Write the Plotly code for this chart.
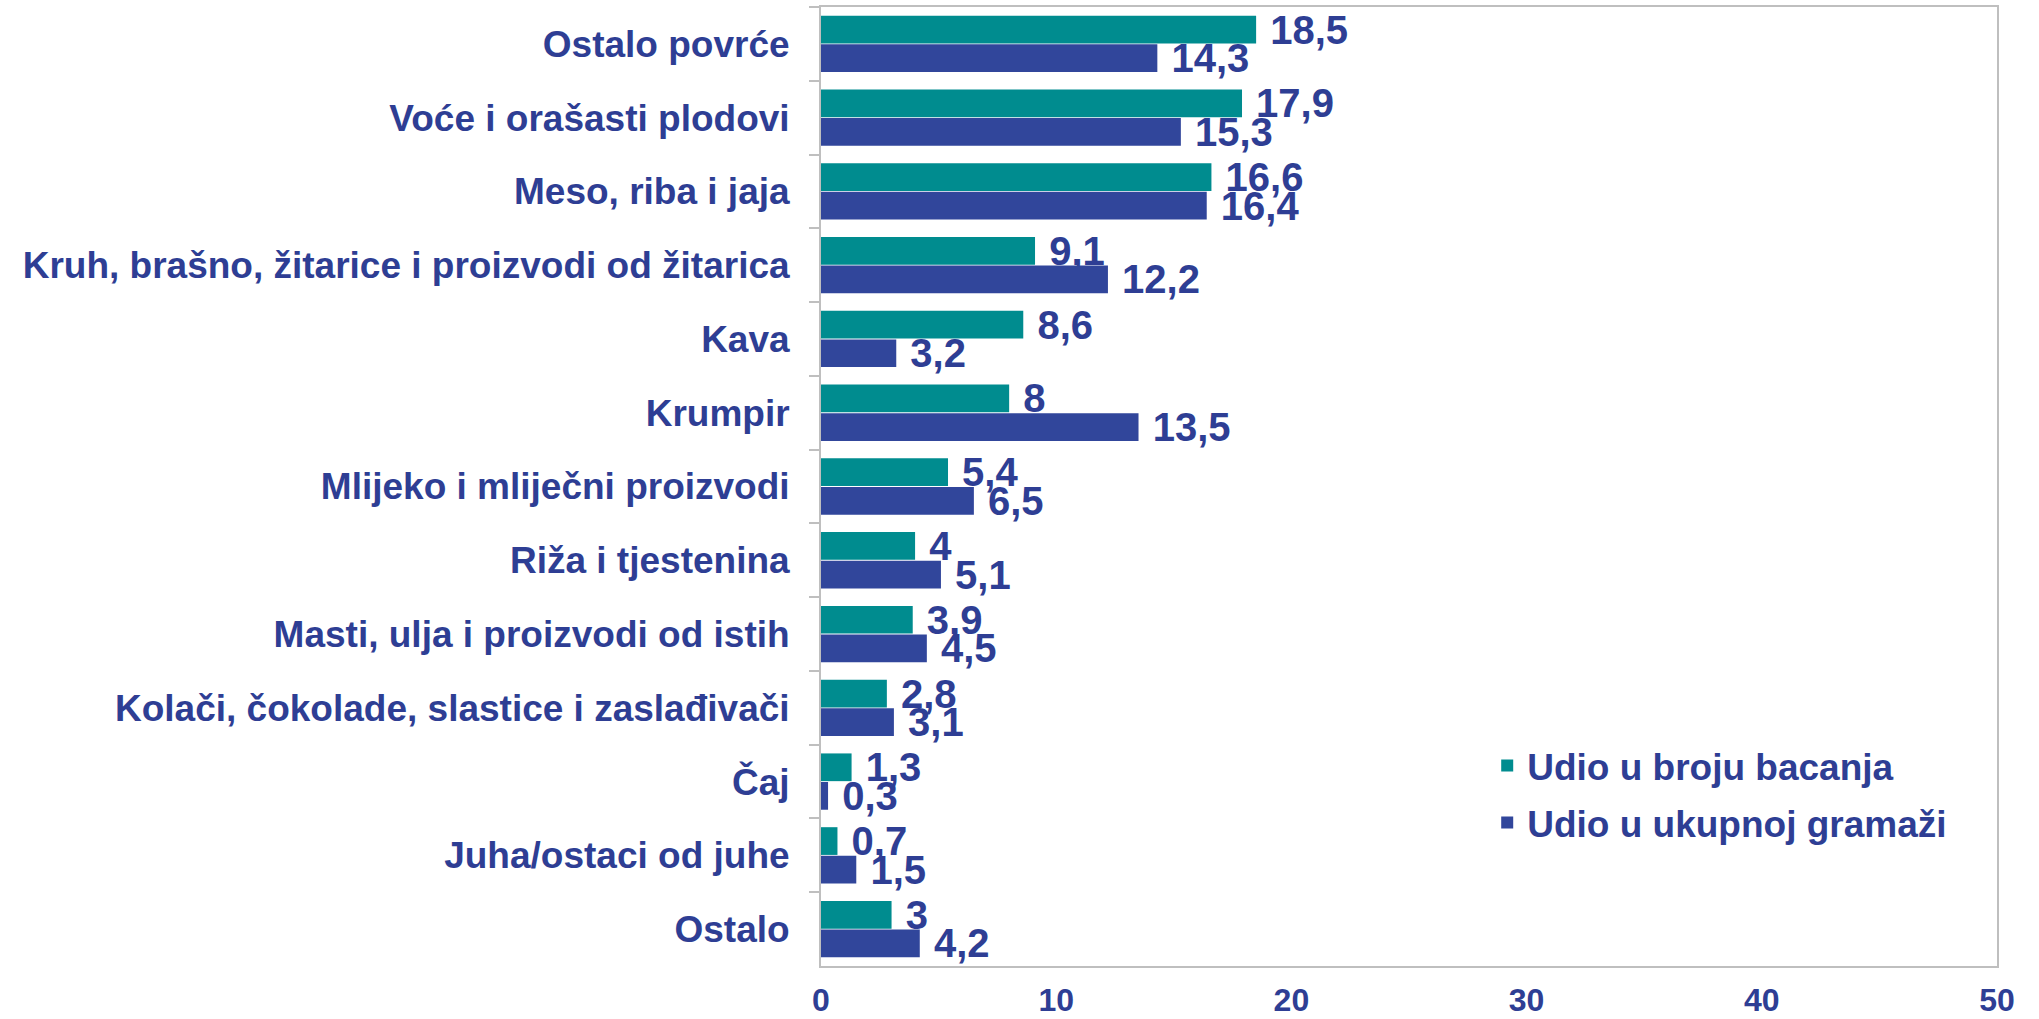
import plotly.graph_objects as go

categories = [
    "Ostalo povrće",
    "Voće i orašasti plodovi",
    "Meso, riba i jaja",
    "Kruh, brašno, žitarice i proizvodi od žitarica",
    "Kava",
    "Krumpir",
    "Mlijeko i mliječni proizvodi",
    "Riža i tjestenina",
    "Masti, ulja i proizvodi od istih",
    "Kolači, čokolade, slastice i zaslađivači",
    "Čaj",
    "Juha/ostaci od juhe",
    "Ostalo",
]
udio_broj = [18.5, 17.9, 16.6, 9.1, 8.6, 8, 5.4, 4, 3.9, 2.8, 1.3, 0.7, 3]
udio_gramaza = [14.3, 15.3, 16.4, 12.2, 3.2, 13.5, 6.5, 5.1, 4.5, 3.1, 0.3, 1.5, 4.2]
series_names = ["Udio u broju bacanja", "Udio u ukupnoj gramaži"]
x_ticks = [0, 10, 20, 30, 40, 50]

TEAL = "#008C8F"
NAVY = "#31469B"
TEXT = "#2E3E94"
GRID = "#BFBFBF"
FONT = "Liberation Sans, Arial, sans-serif"


def fmt(v):
    s = f"{v:g}"
    return "\u00a0" + s.replace(".", ",")


fig = go.Figure()
for i, (name, vals, col) in enumerate([(series_names[0], udio_broj, TEAL), (series_names[1], udio_gramaza, NAVY)]):
    fig.add_trace(go.Bar(
        y=categories, x=vals, name=name, orientation="h",
        legendgroup=f"g{i}",
        marker=dict(color=col, line=dict(width=0)),
        text=[fmt(v) for v in vals], textposition="outside",
        textfont=dict(family=FONT, size=40, color=TEXT, weight="bold"),
        constraintext="none", cliponaxis=False,
    ))

fig.update_layout(
    width=2039, height=1019,
    margin=dict(l=821, r=42, t=7, b=53),
    paper_bgcolor="white", plot_bgcolor="white",
    barmode="group", bargap=0.225, bargroupgap=0.03,
    font=dict(family=FONT, color=TEXT),
    legend=dict(
        x=0.5665, y=0.241, xanchor="left", yanchor="top",
        font=dict(family=FONT, size=37, color=TEXT, weight="bold"),
        bgcolor="rgba(0,0,0,0)", traceorder="grouped", tracegroupgap=6,
    ),
    xaxis=dict(
        range=[0, 50], tickvals=x_ticks, ticktext=[str(t) for t in x_ticks],
        showgrid=False, zeroline=False, automargin=False,
        showline=True, linecolor=GRID, linewidth=2, mirror=True,
        ticks="", ticklabelstandoff=5,
        tickfont=dict(family=FONT, size=32, color=TEXT, weight="bold"),
    ),
    yaxis=dict(
        autorange="reversed", type="category", automargin=False,
        showgrid=False, zeroline=False,
        showline=True, linecolor=GRID, linewidth=2, mirror=True,
        ticks="outside", tickson="boundaries", ticklen=10, tickcolor=GRID, tickwidth=2,
        ticklabelstandoff=22,
        tickfont=dict(family=FONT, size=37, color=TEXT, weight="bold"),
    ),
)

fig.write_html(
    "out.html",
    config={"displayModeBar": False},
    post_script="document.body.style.margin='0';document.body.style.overflow='hidden';",
)
